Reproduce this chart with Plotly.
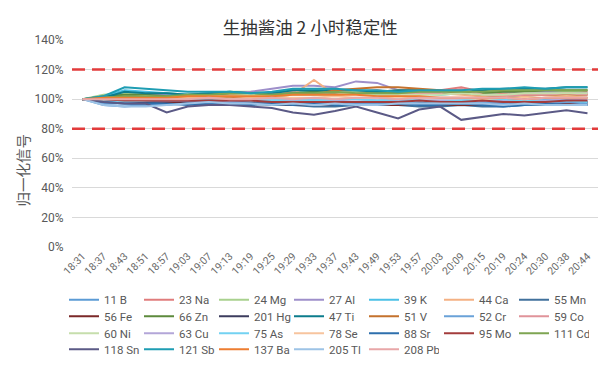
import plotly.graph_objects as go

times = ["18:31", "18:37", "18:43", "18:51", "18:57", "19:03", "19:07", "19:13", "19:19",
         "19:25", "19:29", "19:33", "19:37", "19:43", "19:49", "19:53", "19:57", "20:03",
         "20:09", "20:15", "20:19", "20:24", "20:30", "20:38", "20:44"]

series_names = ["11 B", "23 Na", "24 Mg", "27 Al", "39 K", "44 Ca", "55 Mn",
                "56 Fe", "66 Zn", "201 Hg", "47 Ti", "51 V", "52 Cr", "59 Co",
                "60 Ni", "63 Cu", "75 As", "78 Se", "88 Sr", "95 Mo", "111 Cd",
                "118 Sn", "121 Sb", "137 Ba", "205 Tl", "208 Pb"]

colors = ["#5b9bd5", "#e07c7c", "#a9d18e", "#9e8fca", "#4bc0e6", "#f4b183", "#41719c",
          "#7b2929", "#5d8a3c", "#3c3c5e", "#0c7c8c", "#c4722d", "#6aa2d8", "#e0939a",
          "#c6deac", "#b3a6d8", "#73d2f2", "#f7c49e", "#2e6fad", "#a33c3c", "#7ea552",
          "#5b5a86", "#1e9db3", "#ed7d31", "#9dc3e6", "#e8a7a8"]

v_11B = [100, 96, 95, 96, 97, 97, 98, 97, 97, 98, 97, 98, 97, 98, 98, 97, 98, 97, 98, 97, 98, 97, 98, 98, 98]
v_23Na = [100, 101, 102, 102, 101, 102, 103, 103, 102, 104, 105, 104, 104, 105, 106, 104, 105, 106, 108, 105, 104, 105, 105, 104, 105]
v_24Mg = [100, 103, 104, 103, 104, 103, 104, 105, 105, 104, 106, 105, 104, 105, 104, 105, 105, 104, 105, 104, 105, 105, 106, 105, 106]
v_27Al = [100, 101, 102, 103, 103, 102, 103, 104, 105, 107, 109, 109, 108, 112, 111, 106, 106, 105, 106, 104, 105, 104, 105, 104, 104]
v_39K = [100, 102, 106, 105, 104, 103, 104, 104, 103, 102, 104, 105, 104, 104, 103, 103, 104, 103, 104, 102, 101, 102, 100, 101, 101]
v_44Ca = [100, 101, 101, 102, 102, 102, 103, 103, 103, 102, 103, 113, 103, 104, 105, 106, 106, 104, 103, 102, 103, 102, 103, 104, 103]
v_55Mn = [100, 99, 98, 98, 97, 97, 96, 97, 97, 96, 96, 95, 95, 96, 97, 96, 95, 95, 96, 95, 95, 96, 96, 97, 96]
v_56Fe = [100, 99, 99, 99, 98, 98, 98, 98, 97, 97, 96, 97, 96, 97, 96, 96, 97, 96, 96, 96, 97, 97, 97, 97, 97]
v_66Zn = [100, 102, 103, 103, 102, 103, 103, 104, 104, 103, 104, 105, 104, 104, 104, 105, 104, 104, 105, 104, 105, 105, 106, 106, 106]
v_201Hg = [100, 99, 98, 98, 99, 98, 99, 99, 98, 97, 97, 98, 96, 97, 98, 97, 97, 98, 97, 96, 97, 98, 97, 98, 98]
v_47Ti = [100, 101, 105, 104, 104, 103, 104, 105, 104, 104, 106, 106, 106, 106, 105, 106, 106, 105, 106, 106, 107, 107, 107, 108, 108]
v_51V = [100, 100, 100, 101, 101, 101, 101, 101, 102, 102, 103, 103, 106, 107, 108, 108, 107, 106, 104, 103, 102, 103, 103, 103, 103]
v_52Cr = [100, 97, 97, 96, 96, 97, 97, 98, 97, 97, 97, 97, 98, 97, 97, 98, 97, 97, 97, 98, 97, 96, 97, 98, 97]
v_59Co = [100, 100, 101, 101, 101, 101, 102, 102, 102, 103, 103, 103, 103, 104, 103, 103, 104, 104, 107, 103, 102, 103, 103, 104, 103]
v_60Ni = [100, 101, 101, 102, 101, 102, 102, 102, 103, 102, 103, 103, 103, 104, 103, 103, 103, 103, 104, 103, 103, 104, 104, 104, 104]
v_63Cu = [100, 99, 98, 99, 99, 99, 99, 99, 99, 99, 99, 100, 99, 100, 99, 99, 99, 99, 99, 99, 99, 99, 99, 100, 99]
v_75As = [100, 99, 98, 99, 100, 100, 99, 100, 99, 99, 100, 99, 100, 100, 99, 100, 99, 98, 99, 100, 100, 99, 98, 99, 98]
v_78Se = [100, 100, 101, 100, 100, 101, 101, 100, 101, 101, 101, 101, 102, 101, 101, 102, 101, 101, 101, 100, 101, 101, 101, 102, 101]
v_88Sr = [100, 98, 97, 97, 97, 96, 97, 96, 96, 97, 96, 97, 96, 96, 96, 97, 96, 96, 97, 96, 95, 96, 97, 96, 96]
v_95Mo = [100, 100, 99, 99, 99, 99, 99, 99, 99, 98, 98, 98, 98, 98, 98, 98, 99, 98, 98, 99, 98, 98, 98, 99, 99]
v_111Cd = [100, 101, 102, 102, 102, 103, 103, 104, 104, 103, 104, 104, 105, 104, 104, 104, 105, 105, 105, 105, 106, 106, 106, 106, 106]
v_118Sn = [100, 98, 97, 97, 91, 95, 96, 96, 95, 94, 91, 89.5, 92, 95, 91, 87, 93, 95, 86, 88, 90, 89, 91, 92.5, 90.5]
v_121Sb = [100, 102, 108, 107, 106, 105, 105, 105, 104, 105, 107, 107, 107, 106, 106, 105, 106, 106, 106, 107, 107, 108, 107, 108, 108]
v_137Ba = [100, 101, 101, 101, 101, 102, 102, 102, 102, 102, 103, 103, 103, 103, 102, 102, 102, 101, 101, 101, 101, 100, 101, 101, 101]
v_205Tl = [100, 96, 95, 95, 96, 97, 98, 97, 97, 96, 97, 96, 97, 96, 96, 97, 97, 97, 97, 97, 96, 97, 96, 96, 96]
v_208Pb = [100, 100, 100, 100, 100, 100, 101, 100, 100, 101, 100, 101, 100, 101, 101, 100, 101, 101, 101, 101, 101, 100, 101, 101, 101]

values = [v_11B, v_23Na, v_24Mg, v_27Al, v_39K, v_44Ca, v_55Mn,
          v_56Fe, v_66Zn, v_201Hg, v_47Ti, v_51V, v_52Cr, v_59Co,
          v_60Ni, v_63Cu, v_75As, v_78Se, v_88Sr, v_95Mo, v_111Cd,
          v_118Sn, v_121Sb, v_137Ba, v_205Tl, v_208Pb]

limits = [120, 80]
y_ticks = [0, 20, 40, 60, 80, 100, 120, 140]
y_tick_labels = [f"{v}%" for v in y_ticks]

PER_ROW = 7
legend_ids = ["legend", "legend2", "legend3", "legend4"]
legend_rows_y = [-0.2545, -0.335, -0.4166, -0.494]

fig = go.Figure()
for i, (name, col, vals) in enumerate(zip(series_names, colors, values)):
    fig.add_trace(go.Scatter(x=times, y=vals, mode="lines", name=name,
                             legend=legend_ids[i // PER_ROW],
                             line=dict(color=col, width=2)))

for lim in limits:
    fig.add_hline(y=lim, line=dict(color="#e23b3b", width=2.5, dash="13px,7px"))

legend_style = dict(orientation="h", x=-0.0152, xanchor="left", yanchor="middle",
                    entrywidth=30, font=dict(size=11.5, color="#595959"),
                    bgcolor="rgba(0,0,0,0)")
legend_layout = {lid: dict(legend_style, y=ly) for lid, ly in zip(legend_ids, legend_rows_y)}

font_fam = "Roboto, 'Noto Sans CJK SC', sans-serif"
fig.update_layout(
    width=600, height=368,
    margin=dict(l=72, r=2, t=40, b=121, autoexpand=False),
    paper_bgcolor="white", plot_bgcolor="white",
    font=dict(family=font_fam, color="#595959", size=11),
    title=dict(text="生抽酱油 2 小时稳定性", x=0.517, xanchor="center", y=0.925, yanchor="middle",
               font=dict(family="'Noto Sans CJK SC', sans-serif", size=17.5, color="#333333")),
    xaxis=dict(type="category", range=[-0.5, len(times) - 0.5], tickangle=-45,
               showgrid=False, showline=False, ticks="", automargin=False,
               tickfont=dict(size=10.5, color="#6b6b6b")),
    yaxis=dict(range=[0, 140], tickvals=y_ticks, ticktext=y_tick_labels, showgrid=True,
               gridcolor="#d9d9d9", gridwidth=1, zeroline=False, showline=False,
               ticks="outside", ticklen=5, tickcolor="rgba(0,0,0,0)",
               automargin=False, tickfont=dict(size=12, color="#595959")),
    showlegend=True,
    annotations=[dict(text="归一化信号", xref="paper", yref="paper", x=-0.095, y=0.37,
                      textangle=-90, showarrow=False, xanchor="center", yanchor="middle",
                      font=dict(family="'Noto Sans CJK SC', sans-serif", size=14.5, color="#595959"))],
    **legend_layout,
)

fig.write_html("out.html", config={"displayModeBar": False},
               post_script="document.body.style.margin='0';")
